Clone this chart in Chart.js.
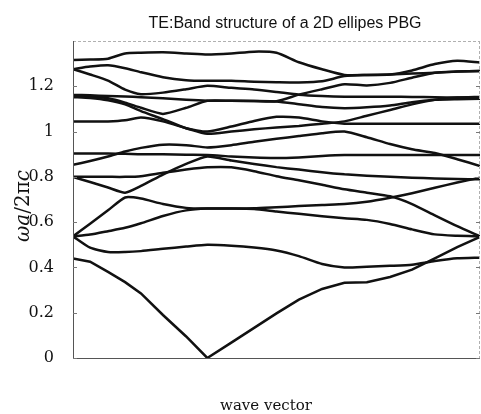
<!DOCTYPE html>
<html>
<head>
<meta charset="utf-8">
<title>TE band structure</title>
<script src="https://cdn.jsdelivr.net/npm/chart.js@4/dist/chart.umd.min.js"></script>
<style>
    html, body { margin: 0; padding: 0; background: #fff; }
    #wrap { width: 481px; height: 414px; position: relative; }
</style>
</head>
<body>
<div id="wrap"><canvas id="bandChart"></canvas></div>
<script>
// position along the k path (0 = left corner, 1 = right corner)
const kPath = [0, 0.042, 0.086, 0.128, 0.167, 0.221, 0.278, 0.330, 0.389, 0.445,
               0.5, 0.555, 0.612, 0.667, 0.722, 0.779, 0.833, 0.889, 0.944, 1];

// frequencies ωa/2πc
const band1  = [0.44, 0.425, 0.38, 0.335, 0.285, 0.19, 0.095, 0.0, 0.068, 0.133, 0.197, 0.258, 0.305, 0.332, 0.335, 0.358, 0.39, 0.44, 0.49, 0.535];
const band2  = [0.537, 0.487, 0.468, 0.468, 0.472, 0.482, 0.492, 0.50, 0.496, 0.488, 0.475, 0.45, 0.415, 0.40, 0.403, 0.407, 0.412, 0.428, 0.44, 0.443];
const band3  = [0.537, 0.545, 0.56, 0.575, 0.595, 0.627, 0.652, 0.66, 0.66, 0.658, 0.647, 0.637, 0.626, 0.617, 0.61, 0.592, 0.568, 0.546, 0.54, 0.537];
const band4  = [0.537, 0.593, 0.652, 0.709, 0.704, 0.68, 0.663, 0.66, 0.66, 0.661, 0.666, 0.671, 0.676, 0.68, 0.69, 0.708, 0.728, 0.752, 0.775, 0.796];
const band5  = [0.80, 0.80, 0.80, 0.80, 0.803, 0.818, 0.832, 0.842, 0.842, 0.825, 0.803, 0.785, 0.765, 0.745, 0.73, 0.714, 0.68, 0.63, 0.582, 0.537];
const band6  = [0.80, 0.777, 0.753, 0.73, 0.76, 0.81, 0.857, 0.89, 0.872, 0.857, 0.843, 0.832, 0.82, 0.811, 0.805, 0.80, 0.796, 0.793, 0.79, 0.789];
const band7  = [0.903, 0.903, 0.903, 0.902, 0.90, 0.90, 0.898, 0.897, 0.89, 0.885, 0.883, 0.886, 0.892, 0.896, 0.896, 0.896, 0.896, 0.896, 0.896, 0.896];
const band8  = [0.853, 0.87, 0.89, 0.912, 0.928, 0.942, 0.94, 0.93, 0.94, 0.955, 0.968, 0.98, 0.993, 1.0, 0.975, 0.945, 0.922, 0.905, 0.878, 0.848];
const band9  = [1.044, 1.044, 1.045, 1.05, 1.062, 1.045, 1.015, 0.99, 1.0, 1.01, 1.018, 1.025, 1.035, 1.045, 1.07, 1.095, 1.12, 1.14, 1.15, 1.153];
const band10 = [1.152, 1.148, 1.138, 1.12, 1.09, 1.055, 1.015, 1.0, 1.022, 1.047, 1.065, 1.062, 1.045, 1.035, 1.035, 1.035, 1.035, 1.035, 1.035, 1.035];
const band11 = [1.162, 1.16, 1.157, 1.155, 1.152, 1.147, 1.14, 1.136, 1.136, 1.135, 1.134, 1.163, 1.187, 1.209, 1.204, 1.215, 1.238, 1.26, 1.265, 1.268];
const band12 = [1.158, 1.155, 1.147, 1.128, 1.105, 1.078, 1.105, 1.136, 1.136, 1.135, 1.133, 1.121, 1.108, 1.103, 1.107, 1.115, 1.13, 1.14, 1.143, 1.145];
const band13 = [1.276, 1.252, 1.225, 1.185, 1.165, 1.172, 1.187, 1.202, 1.193, 1.186, 1.175, 1.163, 1.157, 1.154, 1.154, 1.154, 1.153, 1.152, 1.15, 1.15];
const band14 = [1.276, 1.287, 1.293, 1.28, 1.262, 1.24, 1.227, 1.224, 1.224, 1.22, 1.218, 1.217, 1.222, 1.245, 1.25, 1.252, 1.256, 1.26, 1.265, 1.268];
const band15 = [1.316, 1.318, 1.322, 1.345, 1.348, 1.35, 1.345, 1.34, 1.345, 1.353, 1.348, 1.306, 1.275, 1.25, 1.25, 1.252, 1.27, 1.298, 1.313, 1.305];

const yTicks = [0, 0.2, 0.4, 0.6, 0.8, 1, 1.2];
const yMax = 1.4;

const chartTitle = 'TE:Band structure of a 2D ellipes PBG';
const xTitle = 'wave vector';

const bands = [band1, band2, band3, band4, band5, band6, band7, band8,
               band9, band10, band11, band12, band13, band14, band15];

// frame, inward ticks and the three captions
const framePlugin = {
    id: 'framePlugin',
    afterDraw(chart) {
        const { ctx, chartArea: a } = chart;
        const y = chart.scales.y;
        ctx.save();

        ctx.lineWidth = 1;
        ctx.strokeStyle = '#b0b0b0';
        ctx.setLineDash([3, 2]);
        ctx.beginPath();
        ctx.moveTo(a.left, a.top + 0.5);
        ctx.lineTo(a.right, a.top + 0.5);
        ctx.moveTo(a.right - 0.5, a.top);
        ctx.lineTo(a.right - 0.5, a.bottom);
        ctx.stroke();

        ctx.setLineDash([]);
        ctx.strokeStyle = '#555';
        ctx.beginPath();
        ctx.moveTo(a.left + 0.5, a.top);
        ctx.lineTo(a.left + 0.5, a.bottom + 0.5);
        ctx.lineTo(a.right, a.bottom + 0.5);
        ctx.stroke();

        ctx.strokeStyle = '#777';
        ctx.beginPath();
        yTicks.forEach(v => {
            const py = Math.round(y.getPixelForValue(v)) + 0.5;
            ctx.moveTo(a.left, py);
            ctx.lineTo(a.left + 4, py);
            ctx.moveTo(a.right - 4, py);
            ctx.lineTo(a.right, py);
        });
        ctx.stroke();

        ctx.fillStyle = '#111';
        ctx.textBaseline = 'middle';
        ctx.textAlign = 'center';
        ctx.font = '16px "Liberation Sans", Arial, sans-serif';
        ctx.fillText(chartTitle, a.left + 212, 24);

        ctx.font = '15px "DejaVu Serif", serif';
        ctx.fillText(xTitle, a.left + 193, 406);

        // ωa/2πc, rotated, with italic symbols and upright 2π
        const parts = [
            ['ω', 'italic 20px "DejaVu Serif", serif'],
            ['a', 'italic 20px "DejaVu Serif", serif'],
            ['/', '20px "DejaVu Serif", serif'],
            ['2π', '20px "DejaVu Serif", serif'],
            ['c', 'italic 20px "DejaVu Serif", serif']
        ];
        let total = 0;
        parts.forEach(p => { ctx.font = p[1]; total += ctx.measureText(p[0]).width; });
        ctx.translate(24, 206);
        ctx.rotate(-Math.PI / 2);
        ctx.textAlign = 'left';
        let cx = -total / 2;
        parts.forEach(p => {
            ctx.font = p[1];
            ctx.fillText(p[0], cx, 0);
            cx += ctx.measureText(p[0]).width;
        });

        ctx.restore();
    }
};

document.addEventListener('DOMContentLoaded', () => {
    initChart();
});

function initChart() {
    const ctx = document.getElementById('bandChart').getContext('2d');

    new Chart(ctx, {
        type: 'line',
        data: {
            labels: kPath,
            datasets: bands.map((b, i) => ({
                label: 'Band ' + (i + 1),
                data: b.map((v, j) => ({ x: kPath[j], y: v })),
                borderColor: '#111',
                backgroundColor: 'transparent',
                borderWidth: 2.5,
                pointRadius: 0,
                tension: i === 0 ? 0 : 0.2
            }))
        },
        options: {
            responsive: true,
            maintainAspectRatio: false,
            animation: false,
            layout: { padding: { top: 41, right: 1, bottom: 56, left: 0 } },
            plugins: {
                legend: { display: false },
                tooltip: { enabled: false },
                title: { display: false }
            },
            scales: {
                x: {
                    type: 'linear',
                    min: 0,
                    max: 1,
                    display: false
                },
                y: {
                    min: 0,
                    max: yMax,
                    afterFit: s => { s.width = 73; },
                    afterBuildTicks: s => { s.ticks = yTicks.map(v => ({ value: v })); },
                    grid: { display: false },
                    border: { display: false },
                    ticks: {
                        padding: 11,
                        color: '#111',
                        font: { family: '"DejaVu Serif", serif', size: 16 },
                        callback: v => String(Math.round(v * 10) / 10)
                    }
                }
            }
        },
        plugins: [framePlugin]
    });
}
</script>
</body>
</html>
